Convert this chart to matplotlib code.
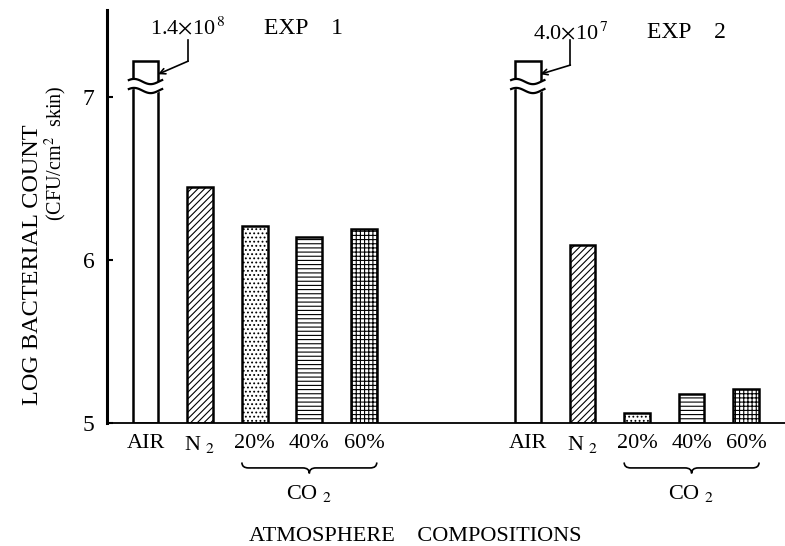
import matplotlib
matplotlib.use('Agg')
import matplotlib.pyplot as plt
import matplotlib.transforms as mtransforms
from matplotlib.path import Path
from matplotlib.patches import PathPatch
import numpy as np

plt.rcParams['font.family'] = ['Liberation Serif', 'DejaVu Serif']
plt.rcParams['mathtext.fontset'] = 'stix'
plt.rcParams['hatch.linewidth'] = 0.8

# data
labels = ['AIR', 'N $_2$', '20%', '40%', '60%']
exp1_log = [8.15, 6.45, 6.21, 6.14, 6.19]   # AIR = log10(1.4e8), broken bar
exp2_log = [7.60, 6.09, 5.06, 5.18, 5.21]   # AIR = log10(4.0e7), broken bar
air_text = ['1.4$\\times$10$^{\\,8}$', '4.0$\\times$10$^{\\,7}$']
exp_names = ['EXP    1', 'EXP    2']
hatches = ['', '/////', '....', '----', '++++']

pos1 = np.arange(5)
pos2 = np.arange(5) + 7
w = 0.47
cap_top = 7.22
brk_hi, brk_lo = 7.095, 7.04

fig = plt.figure(figsize=(7.85, 5.46), dpi=100)
ax = fig.add_axes([0.1363, 0.2253, 0.8637, 0.7564])
ax.set_xlim(-0.705, 11.71)
ax.set_ylim(5, 7.534)

for pos, vals in [(pos1, exp1_log), (pos2, exp2_log)]:
    shown = [min(v, cap_top) for v in vals]
    for x, v, h in zip(pos, shown, hatches):
        ax.bar(x, v - 5, bottom=5, width=w, facecolor='white', edgecolor='black',
               linewidth=1.8, hatch=h, zorder=2)

# broken AIR bars
for x in [pos1[0], pos2[0]]:
    xs = np.linspace(x - w / 2 - 0.07, x + w / 2 + 0.07, 60)
    t = (xs - xs[0]) / (xs[-1] - xs[0])
    wave = 0.016 * np.sin(2 * np.pi * t + 0.6)
    ax.fill_between(xs, brk_lo + wave, brk_hi + wave, color='white', zorder=3)
    ax.plot(xs, brk_hi + wave, color='black', lw=1.6, zorder=4)
    ax.plot(xs, brk_lo + wave, color='black', lw=1.6, zorder=4)

# annotations
for i, x in enumerate([pos1[0], pos2[0]]):
    ty = 7.42 if i == 0 else 7.395
    ax.text(x + 0.78, ty, air_text[i], ha='center', va='center', fontsize=16)
    ax.text(x + 2.9, ty, exp_names[i], ha='center', va='center', fontsize=17)
    y_end = 7.22 if i == 0 else 7.196
    ax.plot([x + 0.78, x + 0.78], [7.35, y_end], color='black', lw=1.2)
    ax.annotate('', xy=(x + 0.23, 7.14), xytext=(x + 0.78, y_end),
                arrowprops=dict(arrowstyle='->', lw=1.2, color='black', shrinkA=0, shrinkB=0))

ax.set_xticks(list(pos1) + list(pos2))
ax.set_xticklabels(labels + labels, fontsize=16)
ax.tick_params(axis='x', length=0, pad=8)
ax.set_yticks([5, 6, 7])
ax.tick_params(axis='y', direction='in', length=4, width=1.5, labelsize=17, pad=9)

for s in ['top', 'right']:
    ax.spines[s].set_visible(False)
ax.spines['left'].set_linewidth(2.2)
ax.spines['bottom'].set_linewidth(1.3)

# braces under CO2 groups
trans = mtransforms.blended_transform_factory(ax.transData, fig.transFigure)
for pos in [pos1, pos2]:
    x0 = pos[2] - w / 2
    x1 = pos[4] + w / 2
    xm = (x0 + x1) / 2
    y = 0.143
    h = 0.010
    d = 0.12
    verts = [(x0, y + h), (x0, y), (x0 + d, y),
             (xm - d, y), (xm, y), (xm, y - h),
             (xm, y), (xm + d, y),
             (x1 - d, y), (x1, y), (x1, y + h)]
    codes = [Path.MOVETO, Path.CURVE3, Path.CURVE3,
             Path.LINETO, Path.CURVE3, Path.CURVE3,
             Path.CURVE3, Path.CURVE3,
             Path.LINETO, Path.CURVE3, Path.CURVE3]
    ax.add_patch(PathPatch(Path(verts, codes), facecolor='none', edgecolor='black',
                           lw=1.2, transform=trans, clip_on=False))
    ax.text(xm, 0.097, 'CO $_2$', ha='center', va='center', fontsize=16, transform=trans)

fig.text(0.529, 0.0165, 'ATMOSPHERE    COMPOSITIONS', ha='center', va='center', fontsize=16)
fig.text(0.041, 0.515, 'LOG BACTERIAL COUNT', rotation=90, ha='center', va='center', fontsize=17.5)
fig.text(0.071, 0.72, '(CFU/cm$^2$  skin)', rotation=90, ha='center', va='center', fontsize=14.5)

fig.savefig('out.png', dpi=100)
